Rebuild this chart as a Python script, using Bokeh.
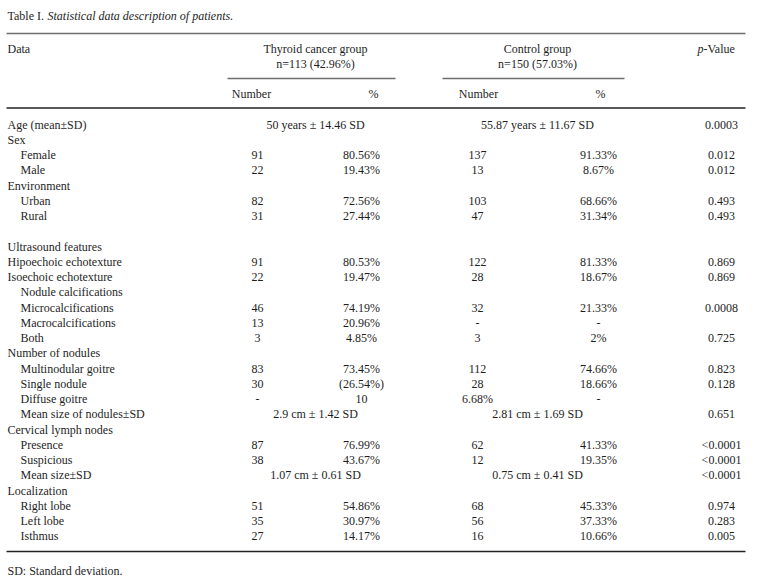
from bokeh.plotting import figure
from bokeh.models import ColumnDataSource, Range1d
from bokeh.core.properties import value
from bokeh.embed import file_html
from bokeh.resources import INLINE

# ---------------- data ----------------
title_main = "Table I."
title_italic = "Statistical data description of patients."
footnote = "SD: Standard deviation."

group_names = ["Thyroid cancer group", "Control group"]
group_sizes = ["n=113 (42.96%)", "n=150 (57.03%)"]
sub_headers = ["Number", "%"]

labels = ["Age (mean±SD)", "Sex", "Female", "Male", "Environment", "Urban", "Rural", "",
          "Ultrasound features", "Hipoechoic echotexture", "Isoechoic echotexture",
          "Nodule calcifications", "Microcalcifications", "Macrocalcifications", "Both",
          "Number of nodules", "Multinodular goitre", "Single nodule", "Diffuse goitre",
          "Mean size of nodules±SD", "Cervical lymph nodes", "Presence", "Suspicious",
          "Mean size±SD", "Localization", "Right lobe", "Left lobe", "Isthmus"]
indented = [0, 0, 1, 1, 0, 1, 1, 0,
            0, 0, 0,
            1, 1, 1, 1,
            0, 1, 1, 1,
            1, 0, 1, 1,
            1, 0, 1, 1, 1]

thyroid_n = ["", "", "91", "22", "", "82", "31", "", "", "91", "22", "", "46", "13", "3",
             "", "83", "30", "-", "", "", "87", "38", "", "", "51", "35", "27"]
thyroid_pct = ["", "", "80.56%", "19.43%", "", "72.56%", "27.44%", "", "", "80.53%", "19.47%",
               "", "74.19%", "20.96%", "4.85%", "", "73.45%", "(26.54%)", "10", "", "",
               "76.99%", "43.67%", "", "", "54.86%", "30.97%", "14.17%"]
control_n = ["", "", "137", "13", "", "103", "47", "", "", "122", "28", "", "32", "-", "3",
             "", "112", "28", "6.68%", "", "", "62", "12", "", "", "68", "56", "16"]
control_pct = ["", "", "91.33%", "8.67%", "", "68.66%", "31.34%", "", "", "81.33%", "18.67%",
               "", "21.33%", "-", "2%", "", "74.66%", "18.66%", "-", "", "",
               "41.33%", "19.35%", "", "", "45.33%", "37.33%", "10.66%"]
p_values = ["0.0003", "", "0.012", "0.012", "", "0.493", "0.493", "", "", "0.869", "0.869",
            "", "0.0008", "", "0.725", "", "0.823", "0.128", "", "0.651", "",
            "<0.0001", "<0.0001", "<0.0001", "", "0.974", "0.283", "0.005"]
thyroid_merged = {0: "50 years ± 14.46 SD", 19: "2.9 cm ± 1.42 SD", 23: "1.07 cm ± 0.61 SD"}
control_merged = {0: "55.87 years ± 11.67 SD", 19: "2.81 cm ± 1.69 SD", 23: "0.75 cm ± 0.41 SD"}

# ---------------- layout ----------------
W, H = 759, 585
FONT = value("Liberation Serif")
FS = "12px"
COL = "#1e1e1e"

p = figure(width=W, height=H, output_backend="svg", toolbar_location=None,
           x_range=Range1d(0, W), y_range=Range1d(H, 0),
           min_border=0, background_fill_color="white", border_fill_color="white")
p.axis.visible = False
p.grid.visible = False
p.outline_line_color = None

def txt(xs, ys, texts, align="left", style="normal"):
    src = ColumnDataSource(dict(x=xs, y=ys, t=texts))
    p.text(x="x", y="y", text="t", source=src, text_font=FONT, text_font_size=FS,
           text_color=COL, text_align=align, text_baseline="middle", text_font_style=style)

# title
txt([7], [15], [title_main])
txt([47], [15], [title_italic], style="italic")

# rules
p.segment(x0=[6], y0=[33], x1=[745], y1=[33], line_color="#6e6e6e", line_width=1.6)
p.segment(x0=[227, 442], y0=[78, 78], x1=[395, 624], y1=[78, 78], line_color="#6e6e6e", line_width=1.4)
p.segment(x0=[6], y0=[107.5], x1=[745], y1=[107.5], line_color="#222222", line_width=1.3)
p.segment(x0=[6], y0=[551], x1=[745], y1=[551], line_color="#222222", line_width=1.3)

# header
group_cx = [315, 537]
num_cx = [251, 478]
pct_head_cx = [373, 600]
txt([7], [48], ["Data"])
txt(group_cx, [48, 48], group_names, align="center")
txt(group_cx, [63, 63], group_sizes, align="center")
txt([num_cx[0], pct_head_cx[0], num_cx[1], pct_head_cx[1]], [93.5] * 4,
    [sub_headers[0], sub_headers[1], sub_headers[0], sub_headers[1]], align="center")
txt([703], [48], ["p"], align="right", style="italic")
txt([703], [48], ["-Value"], align="left")

# body
y0, step = 124, 15.25
ys = [y0 + i * step for i in range(len(labels))]
lx = [7 + 13 * ind for ind in indented]
txt(lx, ys, labels)

vals_cx = [257, 361, 477, 598]
for cx, col in zip(vals_cx, [thyroid_n, thyroid_pct, control_n, control_pct]):
    txt([cx] * len(col), ys, col, align="center")
txt([721] * len(p_values), ys, p_values, align="center")
txt([group_cx[0]] * len(thyroid_merged), [ys[i] for i in thyroid_merged],
    list(thyroid_merged.values()), align="center")
txt([group_cx[1]] * len(control_merged), [ys[i] for i in control_merged],
    list(control_merged.values()), align="center")

# footnote
txt([7], [570], [footnote])

open("out.html", "w").write(file_html(p, INLINE))
